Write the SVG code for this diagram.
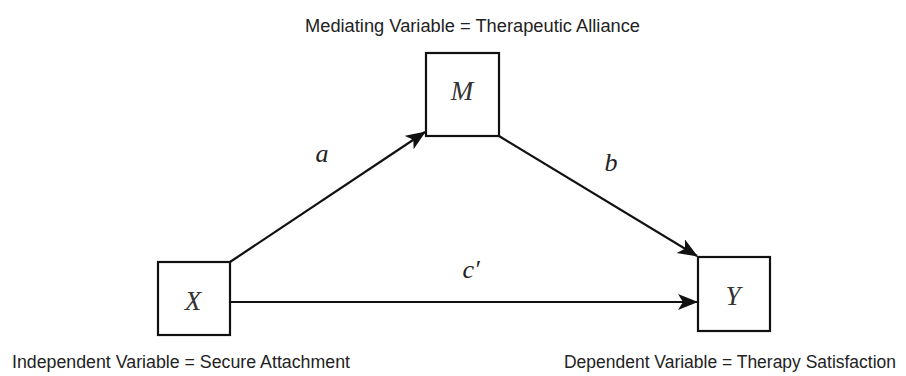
<svg xmlns="http://www.w3.org/2000/svg" width="906" height="376" viewBox="0 0 906 376">
<style>
.box{fill:#fff;stroke:#111;stroke-width:2.2}
.var{font-family:"Liberation Serif","Times New Roman",serif;font-style:italic;font-size:27px;fill:#333;text-anchor:middle}
.lbl{font-family:"Liberation Serif","Times New Roman",serif;font-style:italic;font-size:26px;fill:#222;text-anchor:middle}
.cap{font-family:"Liberation Sans",Arial,sans-serif;font-size:17.5px;fill:#222}
.conn{stroke:#111;stroke-width:2.2;fill:none}
</style>
<defs>
<marker id="ah" markerUnits="userSpaceOnUse" markerWidth="22" markerHeight="18" refX="19" refY="8" orient="auto">
<path d="M0,0 L20,8 L0,16 L5,8 z" fill="#111"/>
</marker>
</defs>
<rect width="906" height="376" fill="#fff"/>
<g id="connectors">
<line class="conn" x1="230" y1="262" x2="425" y2="132" marker-end="url(#ah)"/>
<line class="conn" x1="499" y1="136" x2="697" y2="256" marker-end="url(#ah)"/>
<line class="conn" x1="230" y1="302" x2="697" y2="302" marker-end="url(#ah)"/>
<text class="lbl" x="322" y="162">a</text>
<text class="lbl" x="611" y="171">b</text>
<text class="lbl" x="471" y="278">c′</text>
</g>
<g id="node-M">
<rect class="box" x="426" y="53" width="73" height="83"/>
<text class="var" x="462" y="100">M</text>
</g>
<g id="node-X">
<rect class="box" x="158" y="262" width="72" height="73"/>
<text class="var" x="193" y="310">X</text>
</g>
<g id="node-Y">
<rect class="box" x="698" y="257" width="72" height="74"/>
<text class="var" x="733" y="305">Y</text>
</g>
<g id="captions">
<text class="cap" x="305" y="32" textLength="335" lengthAdjust="spacingAndGlyphs">Mediating Variable = Therapeutic Alliance</text>
<text class="cap" x="12" y="368" textLength="338" lengthAdjust="spacingAndGlyphs">Independent Variable = Secure Attachment</text>
<text class="cap" x="564" y="368" textLength="332" lengthAdjust="spacingAndGlyphs">Dependent Variable = Therapy Satisfaction</text>
</g>
</svg>
